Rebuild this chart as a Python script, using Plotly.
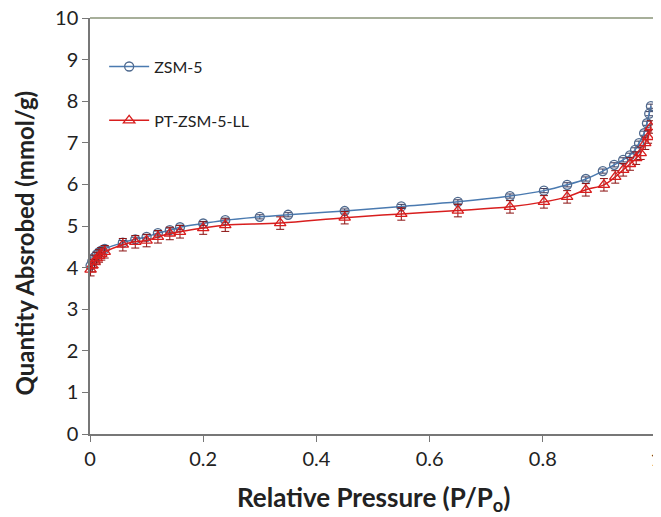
import plotly.graph_objects as go

# ZSM-5
x_zsm = [0.001, 0.004, 0.008, 0.012, 0.016, 0.02, 0.026, 0.058, 0.08, 0.10, 0.12, 0.141, 0.159, 0.20,
         0.239, 0.30, 0.35, 0.45, 0.55, 0.65, 0.742, 0.802, 0.843, 0.876, 0.906, 0.926, 0.942, 0.954,
         0.963, 0.970, 0.979, 0.984, 0.988, 0.991]
y_zsm = [4.05, 4.15, 4.25, 4.32, 4.37, 4.41, 4.45, 4.60, 4.68, 4.74, 4.83, 4.90, 4.97, 5.06,
         5.14, 5.22, 5.27, 5.36, 5.47, 5.58, 5.72, 5.85, 5.99, 6.13, 6.32, 6.47, 6.59, 6.70,
         6.83, 6.99, 7.23, 7.47, 7.70, 7.88]
e_zsm = [0.05] * len(y_zsm)

# PT-ZSM-5-LL
x_pt = [0.001, 0.004, 0.008, 0.012, 0.016, 0.02, 0.026, 0.058, 0.08, 0.10, 0.12, 0.141, 0.159, 0.20,
        0.239, 0.336, 0.45, 0.55, 0.65, 0.742, 0.802, 0.843, 0.876, 0.908, 0.928, 0.942, 0.954,
        0.965, 0.973, 0.981, 0.986, 0.991]
y_pt = [3.95, 4.05, 4.15, 4.22, 4.28, 4.33, 4.38, 4.55, 4.62, 4.65, 4.74, 4.82, 4.86, 4.95,
        5.02, 5.07, 5.20, 5.29, 5.37, 5.46, 5.58, 5.70, 5.87, 5.99, 6.18, 6.35, 6.49,
        6.63, 6.75, 6.99, 7.14, 7.38]
e_pt = [0.15] * len(y_pt)

x_ticks = [0, 0.2, 0.4, 0.6, 0.8, 1]
x_ticklabels = ["0", "0.2", "0.4", "0.6", "0.8", "1"]
y_ticks = [0, 1, 2, 3, 4, 5, 6, 7, 8, 9, 10]

fig = go.Figure()
fig.add_trace(go.Scatter(
    x=x_zsm, y=y_zsm, name="ZSM-5", mode="lines+markers",
    line=dict(color="#4A7AB0", width=1.5, shape="spline"),
    marker=dict(symbol="circle-open", size=9, color="#4F6A8F", line=dict(width=1.3)),
    error_y=dict(type="data", array=e_zsm, color="#3A3A5A", thickness=1, width=4),
    legendgroup="a", cliponaxis=False,
))
fig.add_trace(go.Scatter(
    x=x_pt, y=y_pt, name="PT-ZSM-5-LL", mode="lines+markers",
    line=dict(color="#D81E1E", width=1.5, shape="spline"),
    marker=dict(symbol="triangle-up-open", size=10, color="#D81E1E", line=dict(width=1.3)),
    error_y=dict(type="data", array=e_pt, color="#8B1010", thickness=1, width=4),
    legendgroup="b", cliponaxis=False,
))

# the page body adds an 8px margin; size the figure to fit the window
fig.update_layout(
    width=653, height=509,
    margin=dict(l=82, r=5, t=10, b=83),
    paper_bgcolor="white", plot_bgcolor="white",
    font=dict(family="Lato, Open Sans, sans-serif", color="#222"),
    showlegend=True,
    legend=dict(x=0.025, y=0.924, xanchor="left", yanchor="top",
                bgcolor="rgba(0,0,0,0)", tracegroupgap=30,
                font=dict(size=16, color="#222"), itemwidth=40),
)
fig.update_xaxes(
    range=[0, 1], tickvals=x_ticks, ticktext=x_ticklabels, ticklabeloverflow="allow",
    ticks="outside", ticklen=6, tickcolor="#777", showline=True, linecolor="#777", linewidth=1.5,
    showgrid=False, zeroline=False, automargin=False,
    tickfont=dict(size=20),
)
fig.update_yaxes(
    range=[0, 10], tickvals=y_ticks, ticklabeloverflow="allow",
    ticks="outside", ticklen=6, tickcolor="#777", showline=True, linecolor="#777", linewidth=1.5,
    showgrid=False, zeroline=False, automargin=False,
    tickfont=dict(size=20),
)
fig.add_annotation(text="<b>Relative Pressure (P/P<sub>o</sub>)</b>", xref="paper", yref="paper",
                   x=0.5, y=-0.108, xanchor="center", yanchor="top", showarrow=False,
                   font=dict(size=26, color="#222"))
fig.add_annotation(text="<b>Quantity Absrobed (mmol/g)</b>", xref="paper", yref="paper",
                   x=-0.115, y=0.46, xanchor="center", yanchor="middle", showarrow=False,
                   textangle=-90, font=dict(size=24, color="#222"))
# top and right frame
fig.add_shape(type="line", xref="paper", yref="paper", x0=0, x1=1, y0=1, y1=1,
              line=dict(color="#8A9478", width=1.5))
fig.add_shape(type="line", xref="paper", yref="paper", x0=1, x1=1, y0=0, y1=1,
              line=dict(color="#8A9478", width=1.5))

fig.write_html("out.html")
